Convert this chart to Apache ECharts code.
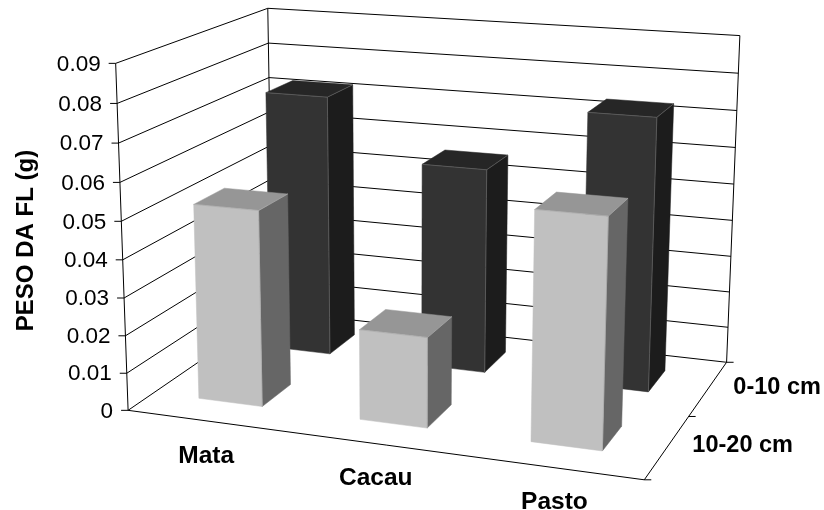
<!DOCTYPE html>
<html><head><meta charset="utf-8">
<style>html,body{margin:0;padding:0;background:#fff}#c{width:824px;height:510px}</style>
<script src="https://cdn.jsdelivr.net/npm/echarts@6/dist/echarts.min.js"></script>
</head><body><div id="c"></div>
<script>
// ---- data ----
const categories = ['Mata', 'Cacau', 'Pasto'];
const depthLabels = ['10-20 cm', '0-10 cm'];
const yTicks = [0, 0.01, 0.02, 0.03, 0.04, 0.05, 0.06, 0.07, 0.08, 0.09];
const values0to10 = [0.0723, 0.056, 0.0733];
const values10to20 = [0.052, 0.0237, 0.0587];
const yAxisName = 'PESO DA FL (g)';

// ---- layout: hidden plane grid, mapped to the 3D box in perspective ----
const GRID = {left: 129, top: 67, width: 515, height: 347};
const BAR_FRAC = 0.4;
const U_SHIFT = -0.004, D_SHIFT = 0.01;
const corners = [
  [0,0,0, 129,410.5],[0,0,1, 115,63],[0,1,1, 268.5,8.5],[0,1,0, 272,311],
  [1,1,0, 727,362],[1,1,1, 739.7,35.7],[1,0,0, 644,480]
];
function solve(A, b) {
  const n = b.length, M = A.map((r, i) => r.concat(b[i]));
  for (let i = 0; i < n; i++) {
    let p = i;
    for (let k = i + 1; k < n; k++) if (Math.abs(M[k][i]) > Math.abs(M[p][i])) p = k;
    [M[i], M[p]] = [M[p], M[i]];
    for (let k = i + 1; k < n; k++) {
      const f = M[k][i] / M[i][i];
      for (let j = i; j <= n; j++) M[k][j] -= f * M[i][j];
    }
  }
  const x = new Array(n);
  for (let i = n - 1; i >= 0; i--) {
    let s = M[i][n];
    for (let j = i + 1; j < n; j++) s -= M[i][j] * x[j];
    x[i] = s / M[i][i];
  }
  return x;
}
const PM = (function () {
  const rows = [], rhs = [];
  corners.forEach(c => {
    const [u, d, h] = c, x = c[3] / 1000, y = c[4] / 1000;
    rows.push([u, d, h, 1, 0, 0, 0, 0, -x * u, -x * d, -x * h]); rhs.push(x);
    rows.push([0, 0, 0, 0, u, d, h, 1, -y * u, -y * d, -y * h]); rhs.push(y);
  });
  const n = 11, A = [], b = [];
  for (let i = 0; i < n; i++) {
    A.push([]);
    for (let j = 0; j < n; j++) {
      let s = 0; rows.forEach(r => s += r[i] * r[j]);
      A[i].push(s);
    }
    let t = 0; rows.forEach((r, k) => t += r[i] * rhs[k]);
    b.push(t);
  }
  return solve(A, b);
})();
function P(u, d, h) {
  const w = PM[8] * u + PM[9] * d + PM[10] * h + 1;
  return [1000 * (PM[0] * u + PM[1] * d + PM[2] * h + PM[3]) / w,
          1000 * (PM[4] * u + PM[5] * d + PM[6] * h + PM[7]) / w];
}
const uOf = px => (px - GRID.left) / GRID.width;
const hOf = py => (GRID.top + GRID.height - py) / GRID.height;
const LINE = {stroke: '#000', lineWidth: 1};
const line = (a, b, style) => ({type: 'line', silent: true,
  shape: {x1: a[0], y1: a[1], x2: b[0], y2: b[1]}, style: style || LINE});
const text = (s, x, y, align, font) => ({type: 'text', silent: true,
  style: {text: s, x: x, y: y, align: align, verticalAlign: 'middle', fill: '#000', font: font}});
const poly = (pts, fill) => ({type: 'polygon', silent: true,
  shape: {points: pts}, style: {fill: fill, stroke: fill, lineWidth: 0.5}});

const FONT_TICK = '22.5px "Liberation Sans", Arial, sans-serif';
const FONT_BOLD = 'bold 23.5px "Liberation Sans", Arial, sans-serif';
const FONT_CAT = 'bold 24.5px "Liberation Sans", Arial, sans-serif';

function renderTick(params, api) {
  const h = hOf(api.coord([0, api.value(0)])[1]);
  const f = P(0, 0, h), b = P(0, 1, h), r = P(1, 1, h);
  return {type: 'group', children: [
    line(f, b), line(b, r), line([f[0] - 7, f[1]], f),
    text(String(api.value(0)), f[0] - 15, f[1] + 1, 'right', FONT_TICK)
  ]};
}
function renderFrame() {
  const ch = [
    line(P(0,0,0), P(0,0,1)), line(P(0,1,0), P(0,1,1)), line(P(1,1,0), P(1,1,1)),
    line(P(0,0,0), P(1,0,0)), line(P(1,0,0), P(1,1,0))
  ];
  [0, 0.5, 1].forEach(d => { const p = P(1, d, 0); ch.push(line(p, [p[0] + 7, p[1]])); });
  return {type: 'group', children: ch};
}
const CAT_DX = [-1.5, 1.5, 3];
function renderCat(params, api) {
  const c = api.coord([api.value(0), 0]);
  const p = P(uOf(c[0]), 0, 0);
  return text(categories[api.value(0)], p[0] + CAT_DX[params.dataIndex], p[1] + 35, 'center', FONT_CAT);
}
function renderDepth(params, api) {
  const p = P(1, (api.value(0) + 0.5) / depthLabels.length, 0);
  return text(depthLabels[api.value(0)], p[0] + 25, p[1] - 1, 'left', FONT_BOLD);
}
function barRenderer(depthIndex, colors) {
  return function (params, api) {
    const c = api.coord([api.value(0), api.value(1)]);
    const bw = api.size([1, 0])[0] * BAR_FRAC;
    const u0 = uOf(c[0] - bw / 2) + U_SHIFT, u1 = uOf(c[0] + bw / 2) + U_SHIFT;
    const band = 1 / depthLabels.length;
    const d0 = (depthIndex + 0.5 - BAR_FRAC / 2) * band + D_SHIFT, d1 = (depthIndex + 0.5 + BAR_FRAC / 2) * band + D_SHIFT;
    const h = hOf(c[1]);
    const edge = {stroke: colors.edge, lineWidth: 0.7};
    return {type: 'group', children: [
      poly([P(u1,d0,0), P(u1,d1,0), P(u1,d1,h), P(u1,d0,h)], colors.side),
      poly([P(u0,d0,h), P(u1,d0,h), P(u1,d1,h), P(u0,d1,h)], colors.top),
      poly([P(u0,d0,0), P(u1,d0,0), P(u1,d0,h), P(u0,d0,h)], colors.front),
      line(P(u0,d0,h), P(u1,d0,h), edge),
      line(P(u1,d0,0), P(u1,d0,h), edge),
      line(P(u1,d0,h), P(u1,d1,h), edge)
    ]};
  };
}
const base = {type: 'custom', coordinateSystem: 'cartesian2d', animation: false, silent: true, clip: false};
const chart = echarts.init(document.getElementById('c'), null, {renderer: 'canvas'});
chart.setOption({
  animation: false,
  backgroundColor: '#fff',
  tooltip: {show: false},
  grid: GRID,
  xAxis: {type: 'category', data: categories, show: false},
  yAxis: {
    type: 'value', min: 0, max: 0.09, interval: 0.01,
    name: yAxisName, nameLocation: 'middle', nameGap: 91, nameRotate: 90,
    nameTextStyle: {fontFamily: '"Liberation Sans", Arial, sans-serif', fontWeight: 'bold', fontSize: 24, color: '#000'},
    axisLine: {show: false}, axisTick: {show: false}, axisLabel: {show: false}, splitLine: {show: false}
  },
  series: [
    Object.assign({}, base, {name: 'ticks', z: 1, data: yTicks.map(v => [v]), encode: {x: null, y: 0}, renderItem: renderTick}),
    Object.assign({}, base, {name: 'frame', z: 1, data: [[0]], renderItem: renderFrame}),
    Object.assign({}, base, {name: 'categoryLabels', z: 1, data: categories.map((c, i) => [i]), renderItem: renderCat}),
    Object.assign({}, base, {name: 'depthLabels', z: 1, data: depthLabels.map((c, i) => [i]), renderItem: renderDepth}),
    Object.assign({}, base, {name: '0-10 cm', z: 2, data: values0to10.map((v, i) => [i, v]),
      renderItem: barRenderer(1, {front: '#333333', side: '#1c1c1c', top: '#262626', edge: '#666666'})}),
    Object.assign({}, base, {name: '10-20 cm', z: 3, data: values10to20.map((v, i) => [i, v]),
      renderItem: barRenderer(0, {front: '#c0c0c0', side: '#666666', top: '#969696', edge: '#aaaaaa'})})
  ]
});
</script></body></html>
